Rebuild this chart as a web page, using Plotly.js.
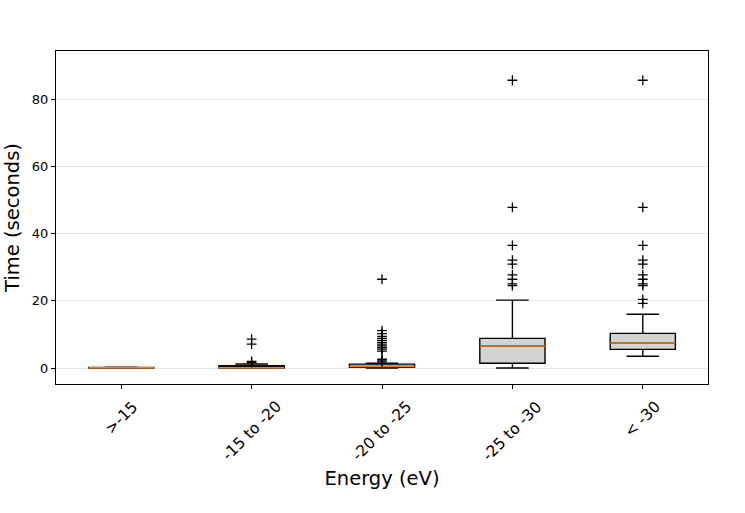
<!DOCTYPE html>
<html>
<head>
<meta charset="utf-8">
<script src="https://cdn.plot.ly/plotly-3.0.1.min.js"></script>
<style>html,body{margin:0;padding:0;background:#fff;}#chart{width:745px;height:513px;}</style>
</head>
<body>
<div id="chart"></div>
<script>
// ---- data ----
var categories = ['>-15', '-15 to -20', '-20 to -25', '-25 to -30', '< -30'];
var q1Values      = [0.0, 0.0, 0.2, 1.4, 5.55];
var medianValues  = [0.05, 0.1, 0.45, 6.55, 7.45];
var q3Values      = [0.2, 0.7, 1.15, 8.8, 10.3];
var lowerWhiskers = [0.0, 0.0, 0.0, 0.0, 3.5];
var upperWhiskers = [0.25, 1.2, 1.4, 20.2, 16.0];
var outliersGt15  = [];
var outliers15to20 = [8.6, 7.1, 2.0, 1.6];
var outliers20to25 = [26.4, 11.1, 10.2, 9.4, 8.8, 8.2, 7.6, 7.1, 6.6, 6.1, 5.6, 5.0, 2.6, 2.1, 1.8];
var outliers25to30 = [85.6, 47.8, 36.5, 32.1, 30.9, 27.7, 26.4, 25.0, 24.5];
var outliersLt30   = [85.6, 47.8, 36.5, 32.1, 30.9, 27.7, 26.4, 25.0, 24.5, 20.4, 19.2];
var yTicks = [0, 20, 40, 60, 80];

// ---- build traces ----
var positions = categories.map(function (c, i) { return i; });
var boxWidth = 0.5;
var outlierGroups = [outliersGt15, outliers15to20, outliers20to25, outliers25to30, outliersLt30];

var boxTrace = {
  type: 'box',
  x: positions,
  q1: q1Values,
  median: medianValues,
  q3: q3Values,
  lowerfence: lowerWhiskers,
  upperfence: upperWhiskers,
  width: boxWidth,
  whiskerwidth: 0.5,
  boxpoints: false,
  fillcolor: '#d3d3d3',
  line: { color: '#000000', width: 1.4 },
  hoverinfo: 'skip',
  showlegend: false
};

var medX = [], medY = [];
positions.forEach(function (p, i) {
  medX.push(p - boxWidth / 2, p + boxWidth / 2, null);
  medY.push(medianValues[i], medianValues[i], null);
});
var medianTrace = {
  type: 'scatter', mode: 'lines', x: medX, y: medY,
  line: { color: '#ff7f0e', width: 1.5 }, hoverinfo: 'skip', showlegend: false
};

var outX = [], outY = [];
outlierGroups.forEach(function (g, i) {
  g.forEach(function (v) { outX.push(positions[i]); outY.push(v); });
});
var outlierTrace = {
  type: 'scatter', mode: 'markers', x: outX, y: outY,
  marker: { symbol: 'cross-thin-open', size: 7, color: '#000', line: { color: '#000', width: 1.3 } },
  hoverinfo: 'skip', showlegend: false
};

var font = 'DejaVu Sans, sans-serif';
var tickAnnotations = categories.map(function (c, i) {
  return {
    text: c, x: positions[i], xref: 'x', y: 0, yref: 'paper',
    xanchor: 'center', yanchor: 'top', yshift: -11,
    textangle: -45, showarrow: false,
    font: { family: font, size: 15.5, color: '#000' }
  };
});

var layout = {
  width: 745, height: 513,
  margin: { l: 56, r: 37, t: 51, b: 129 },
  paper_bgcolor: '#fff', plot_bgcolor: '#fff',
  font: { family: font, color: '#000' },
  xaxis: {
    range: [-0.5, 4.5],
    tickvals: positions,
    showticklabels: false,
    ticks: 'outside', ticklen: 4, tickwidth: 1, tickcolor: '#000',
    showgrid: false, zeroline: false,
    showline: true, linecolor: '#000', linewidth: 1, mirror: true,
    title: { text: 'Energy (eV)', font: { family: font, size: 19.5, color: '#000' }, standoff: 83 }
  },
  yaxis: {
    range: [-4.76, 94.3],
    tickvals: yTicks,
    ticktext: yTicks.map(String),
    tickfont: { family: font, size: 13, color: '#000' },
    ticks: 'outside', ticklen: 4, tickwidth: 1, tickcolor: '#000',
    showgrid: true, gridcolor: '#e6e6e6', gridwidth: 1,
    zeroline: false,
    showline: true, linecolor: '#000', linewidth: 1, mirror: true,
    title: { text: 'Time (seconds)', font: { family: font, size: 19.5, color: '#000' }, standoff: 7 }
  },
  annotations: tickAnnotations,
  showlegend: false
};

Plotly.newPlot('chart', [boxTrace, medianTrace, outlierTrace], layout, { staticPlot: true });
</script>
</body>
</html>
